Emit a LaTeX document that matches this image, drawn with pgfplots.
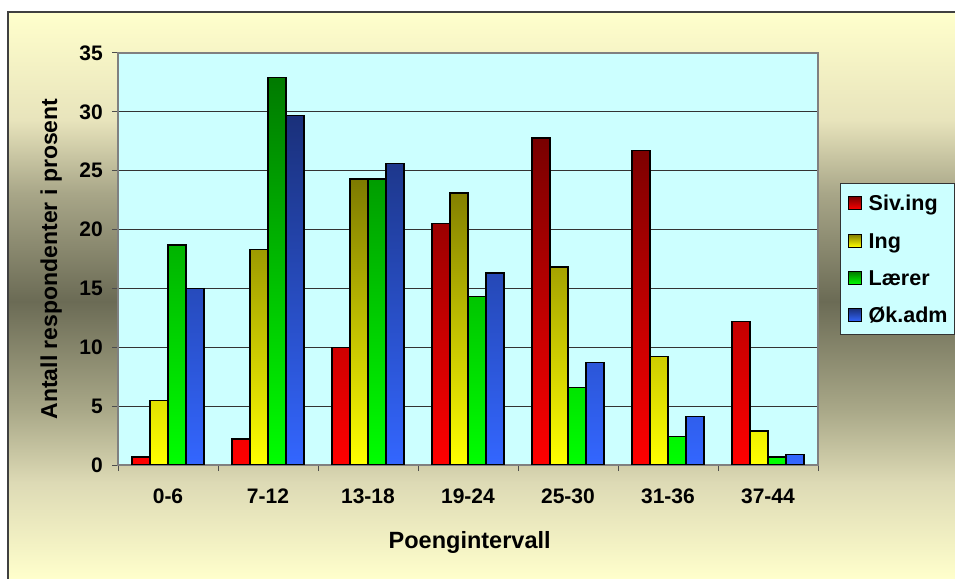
\documentclass[border=0pt]{standalone}
\usepackage{fontspec}
\setmainfont{Liberation Sans}
\usepackage{pgfplots}
\usepackage{pgfplotstable}
\pgfplotsset{compat=1.18}

\definecolor{plotbg}{HTML}{CCFFFF}
\definecolor{bgA}{HTML}{FFFFCC}
\definecolor{bgB}{HTML}{DDDAB5}
\definecolor{bgC}{HTML}{A9A888}
\definecolor{bgD}{HTML}{6B6B55}
\definecolor{bgE}{HTML}{A8A688}
\definecolor{bgF}{HTML}{E8E4BC}
\definecolor{bgG}{HTML}{FFFFCC}
\definecolor{redTop}{HTML}{780000}
\definecolor{redBot}{HTML}{FF0000}
\definecolor{yelTop}{HTML}{7D7A00}
\definecolor{yelBot}{HTML}{FFFF00}
\definecolor{grnTop}{HTML}{007A00}
\definecolor{grnBot}{HTML}{00FF00}
\definecolor{bluTop}{HTML}{1A307A}
\definecolor{bluBot}{HTML}{3366FF}

\pgfdeclareverticalshading{chartbg}{100bp}{color(0bp)=(bgA); color(25bp)=(bgA); color(33.5bp)=(bgB); color(39.9bp)=(bgC); color(49.5bp)=(bgD); color(59bp)=(bgE); color(65.5bp)=(bgF); color(75bp)=(bgG); color(100bp)=(bgG)}

\pgfplotstableread{
x siv ing laerer ok
0 0.7 5.5 18.7 15.0
1 2.2 18.3 32.9 29.7
2 10.0 24.3 24.3 25.6
3 20.5 23.1 14.3 16.3
4 27.8 16.8 6.6 8.7
5 26.7 9.2 2.4 4.1
6 12.2 2.9 0.7 0.9
}\datatable

\begin{document}
\begin{tikzpicture}
\useasboundingbox (0,0) rectangle (955bp,579bp);
\fill[white] (0,0) rectangle (955bp,579bp);
\begin{scope}
\clip (0,0) rectangle (955bp,579bp);
\shade[shading=chartbg] (8bp,0bp) rectangle (960bp,567bp);
\draw[line width=2bp, black!75] (8bp,-5bp) -- (8bp,567bp) -- (960bp,567bp);
\end{scope}
\begin{axis}[
  at={(118bp,114bp)}, anchor=south west,
  scale only axis, width=700bp, height=412bp,
  xmin=-0.5, xmax=6.5, ymin=0, ymax=35,
  ybar=0pt, bar width=18bp,
  axis background/.style={fill=plotbg},
  axis line style={draw=black!50, line width=1.5bp},
  xtick={-0.5,0.5,...,6.5},
  x tick label as interval,
  xticklabels={0-6,7-12,13-18,19-24,25-30,31-36,37-44},
  ytick={0,5,...,35},
  xtick pos=bottom, ytick pos=left,
  tick align=outside,
  major tick length=6bp,
  tick style={black!70, line width=1bp},
  ymajorgrids,
  grid style={black!80, line width=0.8bp},
  /pgf/number format/assume math mode=true,
  tick label style={font=\fontsize{21bp}{24bp}\selectfont\bfseries, inner sep=0pt},
  yticklabel style={xshift=-9bp},
  xticklabel style={yshift=-18bp},
  every axis y label/.style={at={(axis description cs:-0.0871,0.5)}, anchor=base, rotate=90, font=\fontsize{23bp}{26bp}\selectfont\bfseries},
  every axis x label/.style={at={(axis description cs:0.5024,-0.2015)}, anchor=base, font=\fontsize{23.5bp}{26bp}\selectfont\bfseries},
  xlabel={Poengintervall},
  ylabel={Antall respondenter i prosent},
  legend cell align=left,
  legend image code/.code={\draw[#1, draw=black, line width=1bp] (0bp,1bp) rectangle (13bp,14bp);},
  legend style={at={(1.0314,0.6845)}, anchor=north west, fill=plotbg, draw=black!80, line width=1.5bp,
    inner xsep=7bp, inner ysep=7bp, row sep=12.3bp, column sep=7bp,
    font=\fontsize{21.5bp}{24bp}\selectfont\bfseries,
    nodes={inner sep=0pt, text height=20bp, text depth=5bp, anchor=base west}},
]
\addplot[draw=black, line width=1.5bp, top color=redTop, bottom color=redBot] table[x=x, y=siv] {\datatable};
\addplot[draw=black, line width=1.5bp, top color=yelTop, bottom color=yelBot] table[x=x, y=ing] {\datatable};
\addplot[draw=black, line width=1.5bp, top color=grnTop, bottom color=grnBot] table[x=x, y=laerer] {\datatable};
\addplot[draw=black, line width=1.5bp, top color=bluTop, bottom color=bluBot] table[x=x, y=ok] {\datatable};
\legend{Siv.ing, Ing, Lærer, Øk.adm}
\end{axis}
\end{tikzpicture}
\end{document}
